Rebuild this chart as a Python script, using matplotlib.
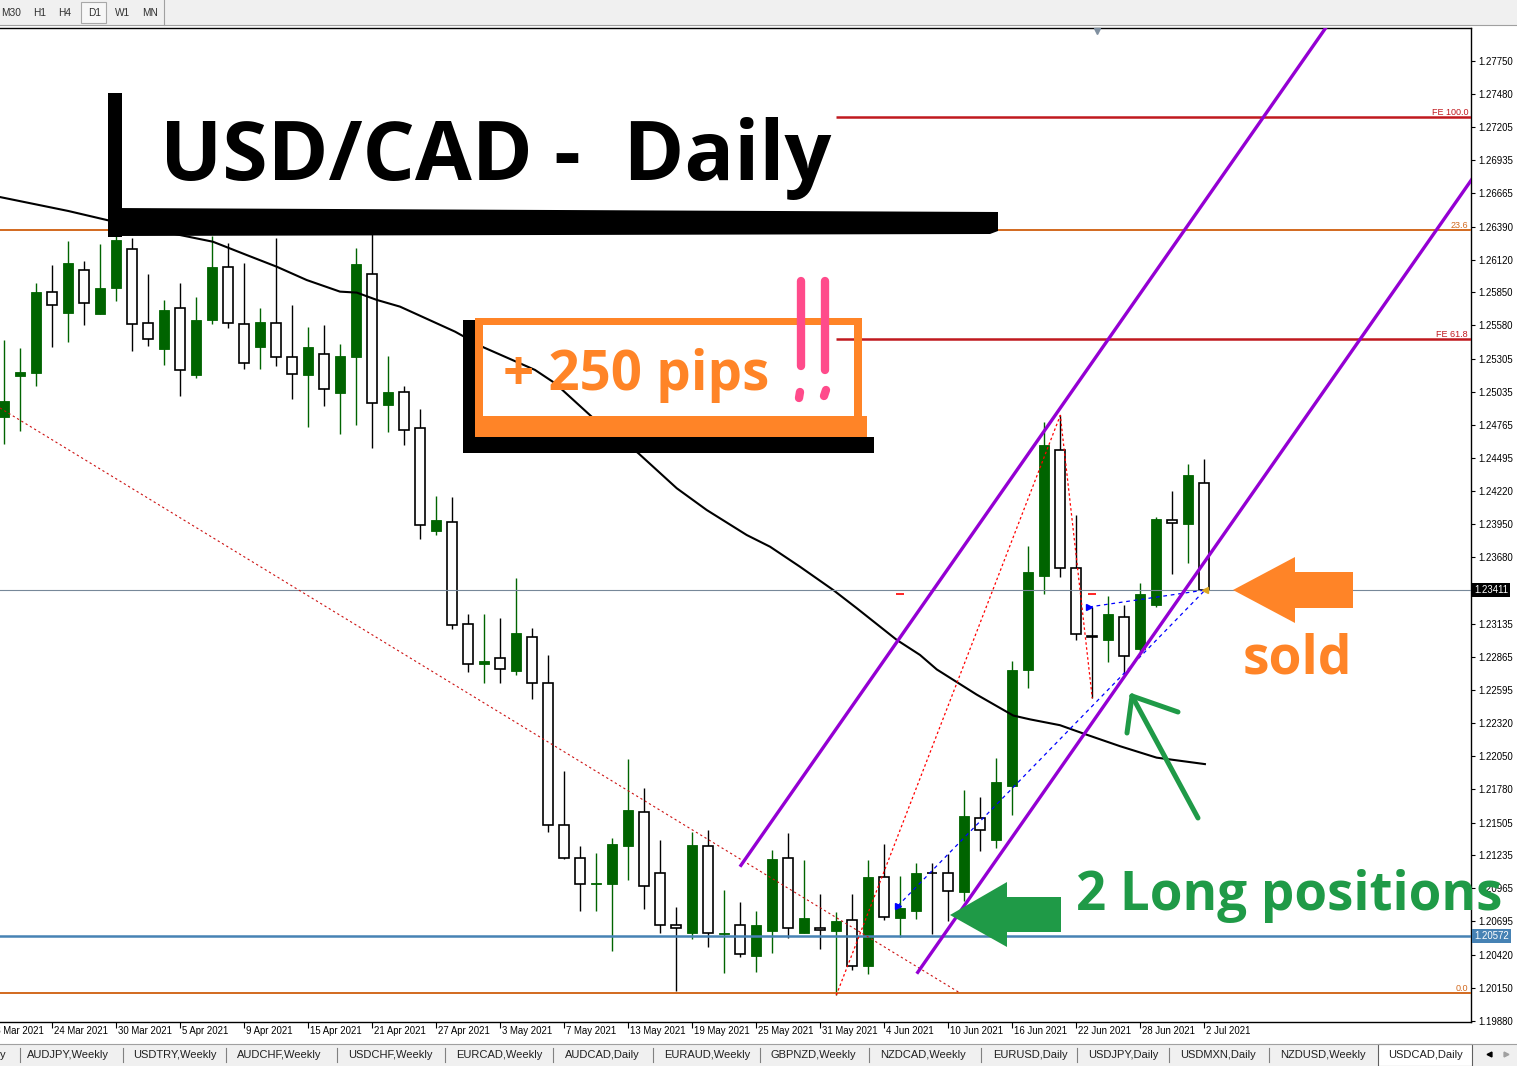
import matplotlib
matplotlib.use('Agg')
import matplotlib.pyplot as plt
from matplotlib.patches import Rectangle, Polygon
import matplotlib.transforms as mtransforms

# ---------------- data ----------------
opens = [1.24832, 1.25168, 1.25193, 1.25852, 1.25684, 1.26032, 1.25676, 1.25889, 1.26204, 1.25598,
         1.25389, 1.25720, 1.25176, 1.25627, 1.26057, 1.25589, 1.25406, 1.25598, 1.25319, 1.25176,
         1.25343, 1.25029, 1.25324, 1.25999, 1.24930, 1.25032, 1.24737, 1.23898, 1.23966, 1.23130,
         1.22807, 1.22854, 1.22750, 1.23024, 1.22647, 1.21483, 1.21212, 1.21000, 1.21004, 1.21316,
         1.21589, 1.21089, 1.20663, 1.20603, 1.21311, 1.20594, 1.20663, 1.20414, 1.20619, 1.21215,
         1.20603, 1.20641, 1.20619, 1.20704, 1.20325, 1.21059, 1.20723, 1.20776, 1.21090, 1.21090,
         1.20939, 1.21542, 1.21363, 1.21808, 1.22752, 1.23526, 1.24558, 1.23589, 1.23031, 1.23002,
         1.23188, 1.22925, 1.23291, 1.23988, 1.23956, 1.24285]
highs = [1.25461, 1.25395, 1.25928, 1.26075, 1.26272, 1.26108, 1.26248, 1.26321, 1.26294, 1.26002,
         1.25789, 1.25928, 1.25813, 1.26313, 1.26253, 1.26092, 1.25723, 1.26297, 1.25748, 1.25567,
         1.25584, 1.25428, 1.26215, 1.26338, 1.25329, 1.25084, 1.24893, 1.24182, 1.24174, 1.23215,
         1.23215, 1.23182, 1.23510, 1.23098, 1.22879, 1.21928, 1.21313, 1.21253, 1.21379, 1.22026,
         1.21789, 1.21362, 1.20816, 1.21428, 1.21444, 1.20952, 1.20854, 1.20780, 1.21280, 1.21420,
         1.21198, 1.20920, 1.20772, 1.20920, 1.21198, 1.21329, 1.21063, 1.21175, 1.21175, 1.21247,
         1.21770, 1.21717, 1.22030, 1.22827, 1.23771, 1.24787, 1.24843, 1.24028, 1.23275, 1.23366,
         1.23285, 1.23470, 1.24012, 1.24223, 1.24442, 1.24483]
lows = [1.24606, 1.24717, 1.25086, 1.25406, 1.25447, 1.25586, 1.25670, 1.25783, 1.25373, 1.25414,
        1.25258, 1.25004, 1.25152, 1.25594, 1.25561, 1.25225, 1.25225, 1.25250, 1.24980, 1.24750,
        1.24922, 1.24693, 1.24766, 1.24578, 1.24709, 1.24598, 1.23827, 1.23865, 1.23089, 1.22742,
        1.22652, 1.22652, 1.22717, 1.22516, 1.21430, 1.21204, 1.20783, 1.20783, 1.20455, 1.21037,
        1.20799, 1.20603, 1.20127, 1.20553, 1.20488, 1.20275, 1.20406, 1.20283, 1.20434, 1.20561,
        1.20600, 1.20466, 1.20090, 1.20294, 1.20262, 1.20703, 1.20563, 1.20711, 1.20594, 1.20698,
        1.20861, 1.21274, 1.21293, 1.21566, 1.22611, 1.23376, 1.23520, 1.23002, 1.22523, 1.22818,
        1.22720, 1.22900, 1.23275, 1.23542, 1.23636, 1.23411]
closes = [1.24961, 1.25196, 1.25854, 1.25745, 1.26092, 1.25761, 1.25887, 1.26280, 1.25589, 1.25466,
          1.25707, 1.25212, 1.25625, 1.26059, 1.25598, 1.25270, 1.25608, 1.25319, 1.25180, 1.25403,
          1.25057, 1.25329, 1.26084, 1.24942, 1.25034, 1.24720, 1.23942, 1.23983, 1.23122, 1.22802,
          1.22830, 1.22761, 1.23059, 1.22647, 1.21483, 1.21212, 1.20999, 1.21007, 1.21329, 1.21608,
          1.20983, 1.20663, 1.20639, 1.21321, 1.20598, 1.20600, 1.20425, 1.20666, 1.21207, 1.20639,
          1.20723, 1.20622, 1.20698, 1.20328, 1.21059, 1.20730, 1.20805, 1.21090, 1.21088, 1.20946,
          1.21557, 1.21441, 1.21839, 1.22755, 1.23557, 1.24599, 1.23589, 1.23050, 1.23029, 1.23213,
          1.22868, 1.23376, 1.23990, 1.23959, 1.24351, 1.23411]

ma_idx = [-0.3, 0, 4, 8, 10.98, 13.04, 15.15, 17.03, 18.9, 20.98, 22.03, 23.28, 24.73, 28.17,
          29.94, 33.17, 34.42, 36.71, 39.63, 42.03, 43.9, 46.4, 47.86, 49.73, 51.81, 53.28, 55.78,
          57.23, 58.28, 60.77, 63.06, 64.1, 65.98, 67.65, 69.73, 72.02, 75.04]
ma_val = [1.26633, 1.26625, 1.26518, 1.26395, 1.26321, 1.26266, 1.26157, 1.26061, 1.25952, 1.25857,
          1.25849, 1.25789, 1.25734, 1.25529, 1.25401, 1.25215, 1.25106, 1.24832, 1.24532, 1.24245,
          1.24067, 1.23862, 1.23766, 1.23602, 1.23411, 1.23262, 1.23002, 1.22879, 1.22760, 1.22554,
          1.22382, 1.22351, 1.22303, 1.22225, 1.22131, 1.22037, 1.21984]

date_idx = [-1, 3, 7, 11, 15, 19, 23, 27, 31, 35, 39, 43, 47, 51, 55, 59, 63, 67, 71, 75]
date_labels = ["18 Mar 2021", "24 Mar 2021", "30 Mar 2021", "5 Apr 2021", "9 Apr 2021",
               "15 Apr 2021", "21 Apr 2021", "27 Apr 2021", "3 May 2021", "7 May 2021",
               "13 May 2021", "19 May 2021", "25 May 2021", "31 May 2021", "4 Jun 2021",
               "10 Jun 2021", "16 Jun 2021", "22 Jun 2021", "28 Jun 2021", "2 Jul 2021"]
price_ticks = [1.27750, 1.27480, 1.27205, 1.26935, 1.26665, 1.26390, 1.26120, 1.25850, 1.25580,
               1.25305, 1.25035, 1.24765, 1.24495, 1.24220, 1.23950, 1.23680, 1.23135, 1.22865,
               1.22595, 1.22320, 1.22050, 1.21780, 1.21505, 1.21235, 1.20965, 1.20695, 1.20420,
               1.20150, 1.19880]

fib_levels = [1.26362, 1.20105]
fib_labels = ["23.6", "0.0"]
fib_diag_idx = [-0.27, 59.73]
fib_diag_price = [1.24903, 1.20108]
fe_levels = [1.27289, 1.25469]
fe_labels = ["FE 100.0", "FE 61.8"]
fe_start_idx = 52
fe_pts_idx = [52, 66, 68]
fe_pts_price = [1.20090, 1.24843, 1.22523]
chan_a_idx = [45.98, 83.0]
chan_a_price = [1.21143, 1.28096]
chan_b_idx = [57.03, 95.0]
chan_b_price = [1.20266, 1.27393]
trade1_idx = [55.84, 75.05]
trade1_price = [1.20821, 1.23411]
trade2_idx = [67.80, 75.05]
trade2_price = [1.23272, 1.23411]
stop_idx = [56, 68]
stop_price = [1.23379, 1.23379]
current_price = 1.23411
support_price = 1.20572

tabs = ["AUDJPY,Weekly", "USDTRY,Weekly", "AUDCHF,Weekly", "USDCHF,Weekly", "EURCAD,Weekly",
        "AUDCAD,Daily", "EURAUD,Weekly", "GBPNZD,Weekly", "NZDCAD,Weekly", "EURUSD,Daily",
        "USDJPY,Daily", "USDMXN,Daily", "NZDUSD,Weekly", "USDCAD,Daily"]
timeframes = ["M30", "H1", "H4", "D1", "W1", "MN"]

# ---------------- figure ----------------
W, H = 1517, 1066
fig = plt.figure(figsize=(W / 100, H / 100), dpi=100)
fig.patch.set_facecolor('white')
TICKFONT = 'Liberation Sans'

ax_left, ax_right, ax_top, ax_bot = 0, 1471, 28, 1022
ax = fig.add_axes([ax_left / W, 1 - ax_bot / H, (ax_right - ax_left) / W, (ax_bot - ax_top) / H])
ax.set_zorder(1)
ax.set_xlim(-0.27, 91.67)
ax.set_ylim(1.19870, 1.28018)
ax.set_facecolor('white')
ax.spines['left'].set_visible(False)
for s in ['top', 'right', 'bottom']:
    ax.spines[s].set_linewidth(1.0)
    ax.spines[s].set_color('black')

GREEN = '#006400'
n = min(len(opens), len(highs), len(lows), len(closes))
idx = list(range(n))
wick_colors = []
faces, edges, bottoms, heights, lws = [], [], [], [], []
for i in idx:
    o, c = opens[i], closes[i]
    bull = c > o
    wick_colors.append(GREEN if bull else 'black')
    faces.append(GREEN if bull else 'white')
    edges.append(GREEN if bull else 'black')
    lws.append(0.6 if bull else 1.2)
    bottoms.append(min(o, c))
    heights.append(abs(c - o))
ax.vlines(idx, lows[:n], highs[:n], colors=wick_colors, linewidth=1.0, zorder=2)
ax.bar(idx, heights, bottom=bottoms, width=0.62, color=faces, edgecolor=edges,
       linewidth=lws, zorder=3)

# moving average
ax.plot(ma_idx, ma_val, color='black', lw=1.5, zorder=4, solid_joinstyle='round')

# horizontal levels
ax.axhline(current_price, color='#778899', lw=0.8, zorder=4)
ax.axhline(support_price, color='#4682B4', lw=1.8, zorder=4)
ax.set_autoscale_on(False)
yblend = mtransforms.blended_transform_factory(ax.transAxes, ax.transData)
for lv, lb in zip(fib_levels, fib_labels):
    ax.axhline(lv, color='#D2691E', lw=1.4, zorder=4)
    ax.text(0.998, lv, lb, transform=yblend, ha='right', va='bottom', fontsize=6.5,
            color='#D2691E', family=TICKFONT, zorder=6)
for lv, lb in zip(fe_levels, fe_labels):
    ax.hlines(lv, fe_start_idx, 200, color='#C0191E', lw=1.8, zorder=4)
    ax.text(0.998, lv, lb, transform=yblend, ha='right', va='bottom', fontsize=6.5,
            color='#C0191E', family=TICKFONT, zorder=6)

ax.plot(fib_diag_idx, fib_diag_price, color='#CC1111', lw=0.8, ls=(0, (2, 2.5)), zorder=4)
ax.plot(fe_pts_idx, fe_pts_price, color='#FF0000', lw=0.9, ls=(0, (2, 2)), zorder=4)
ax.plot(trade1_idx, trade1_price, color='#0000FF', lw=0.9, ls=(0, (3, 3)), zorder=4)
ax.plot(trade2_idx, trade2_price, color='#0000FF', lw=0.9, ls=(0, (3, 3)), zorder=4)
ax.plot([trade1_idx[0], trade2_idx[0]], [trade1_price[0], trade2_price[0]], ls='none',
        marker='>', ms=4, color='#0000FF', zorder=5)
ax.plot([trade1_idx[1]], [trade1_price[1]], ls='none', marker='<', ms=4, color='#DAA520', zorder=5)
for si, sp in zip(stop_idx, stop_price):
    ax.hlines(sp, si - 0.25, si + 0.25, color='#FF0000', lw=1.2, zorder=5)

ax.plot(chan_a_idx, chan_a_price, color='#9400D3', lw=2.4, zorder=6, solid_capstyle='butt')
ax.plot(chan_b_idx, chan_b_price, color='#9400D3', lw=2.4, zorder=6, solid_capstyle='butt')

# price axis
ax.yaxis.set_ticks_position('right')
ax.set_yticks(price_ticks)
ax.set_yticklabels(['%.5f' % p for p in price_ticks], family=TICKFONT, fontsize=6.9)
ax.tick_params(axis='y', direction='out', length=3, width=0.8, pad=2, colors='black')
ax.set_xticks(date_idx[1:])
ax.set_xticklabels([])
ax.tick_params(axis='x', direction='out', length=4, width=0.8)

blend = mtransforms.blended_transform_factory(ax.transData, ax.transAxes)
off = mtransforms.ScaledTranslation(2 / 100, -4 / 100, fig.dpi_scale_trans)
for di, dl in zip(date_idx, date_labels):
    ax.text(di, 0, dl, transform=blend + off, ha='left', va='top', fontsize=6.9,
            family=TICKFONT, clip_on=False)

off2 = mtransforms.ScaledTranslation(3 / 100, 0, fig.dpi_scale_trans)
ax.text(1.0, current_price, '%.5f' % current_price, transform=yblend + off2, ha='left', va='center',
        fontsize=6.9, family=TICKFONT, color='white', zorder=7,
        bbox=dict(boxstyle='square,pad=0.22', fc='black', ec='none'), clip_on=False)
ax.text(1.0, support_price, '%.5f' % support_price, transform=yblend + off2, ha='left', va='center',
        fontsize=6.9, family=TICKFONT, color='white', zorder=7,
        bbox=dict(boxstyle='square,pad=0.22', fc='#4682B4', ec='none'), clip_on=False)

# ---------------- overlay (pixel coordinates) ----------------
ovl = fig.add_axes([0, 0, 1, 1])
ovl.set_zorder(10)
ovl.set_xlim(0, W)
ovl.set_ylim(H, 0)
ovl.axis('off')
ovl.patch.set_alpha(0)

# top toolbar
ovl.add_patch(Rectangle((0, 0), W, 25, fc='#F0F0F0', ec='none'))
ovl.plot([0, W], [25, 25], color='#A0A0A0', lw=0.8)
ovl.add_patch(Rectangle((81, 2), 25, 21, fc='#F7F7F7', ec='#A8A8A8', lw=0.8))
ovl.plot([164, 164], [0, 25], color='#A0A0A0', lw=0.8)
for tf, tx in zip(timeframes, [1, 33, 58, 88, 115, 142]):
    ovl.text(tx, 13.5, tf, ha='left', va='center', fontsize=7.3, family=TICKFONT, color='#303030')
ovl.plot([1097], [31], marker='v', ms=5, color='#8090A0', ls='none')

# bottom tab bar
ovl.add_patch(Rectangle((0, 1044), W, 22, fc='#F0F0F0', ec='none'))
ovl.plot([0, W], [1044, 1044], color='#A0A0A0', lw=0.8)
ovl.add_patch(Rectangle((1378, 1044), 94, 22, fc='white', ec='#606060', lw=0.8))
ovl.text(0, 1055, 'y', ha='left', va='center', fontsize=8, family=TICKFONT, color='#202020')
tab_x = [27, 133, 237, 348, 456, 565, 664, 771, 880, 993, 1088, 1180, 1280, 1388]
sep_x = [20, 123, 226, 337, 445, 553, 653, 760, 869, 981, 1077, 1169, 1269]
for tb, tx in zip(tabs, tab_x):
    ovl.text(tx, 1055, tb, ha='left', va='center', fontsize=8, family=TICKFONT, color='#202020')
for sx in sep_x:
    ovl.plot([sx, sx], [1048, 1062], color='#808080', lw=0.8)
ovl.plot([1489], [1054], marker='<', ms=3.5, color='black', ls='none')
ovl.plot([1506], [1054], marker='>', ms=3.5, color='#A0A0A0', ls='none')

ORANGE = '#FF8427'
GREEN2 = '#1F9A47'
PINK = '#FF4B8B'

# black bracket under title
ovl.add_patch(Rectangle((108, 93), 14, 144, fc='black', ec='none', zorder=3))
ovl.add_patch(Polygon([(113, 208), (998, 212), (998, 231), (990, 234), (113, 236)],
                      closed=True, fc='black', ec='none', zorder=3))

# orange box with black shadow
ovl.add_patch(Rectangle((463, 320), 12, 133, fc='black', ec='none', zorder=3))
ovl.add_patch(Rectangle((463, 437), 411, 16, fc='black', ec='none', zorder=3))
ovl.add_patch(Rectangle((475, 318), 387, 7, fc=ORANGE, ec='none', zorder=4))
ovl.add_patch(Rectangle((475, 318), 8, 119, fc=ORANGE, ec='none', zorder=4))
ovl.add_patch(Rectangle((854, 318), 8, 119, fc=ORANGE, ec='none', zorder=4))
ovl.add_patch(Rectangle((475, 416), 392, 21, fc=ORANGE, ec='none', zorder=4))

# pink exclamation marks
for (x0, y0, x1, y1) in [(801, 281, 801, 366), (800, 392, 799, 398), (825, 281, 825, 370), (826, 390, 824, 396)]:
    ovl.plot([x0, x1], [y0, y1], color=PINK, lw=6, solid_capstyle='round', zorder=5)

# arrows
ovl.add_patch(Polygon([(950, 915), (1007, 882), (1007, 897), (1061, 897), (1061, 932), (1007, 932),
                       (1007, 947)], closed=True, fc=GREEN2, ec='none', zorder=5))
ovl.add_patch(Polygon([(1233, 590), (1295, 557), (1295, 572), (1353, 572), (1353, 608), (1295, 608),
                       (1295, 623)], closed=True, fc=ORANGE, ec='none', zorder=5))
for seg in [[(1198, 818), (1132, 696)], [(1132, 696), (1178, 712)], [(1132, 696), (1127, 733)]]:
    ovl.plot([seg[0][0], seg[1][0]], [seg[0][1], seg[1][1]], color=GREEN2, lw=3.6,
             solid_capstyle='round', zorder=5)

renderer = fig.canvas.get_renderer()


def fit_text(x, y, s, width, color):
    t = ovl.text(x, y, s, fontsize=50, ha='left', va='baseline', color=color,
                 family='Open Sans', fontweight='bold', zorder=6)
    bb = t.get_window_extent(renderer=renderer)
    t.set_fontsize(50 * width / bb.width)
    return t


fit_text(160, 180, 'USD/CAD -  Daily', 672, 'black')
fit_text(503, 390, '+ 250 pips', 266, ORANGE)
fit_text(1243, 674, 'sold', 110, ORANGE)
fit_text(1076, 910, '2 Long positions', 426, GREEN2)

fig.savefig('out.png', dpi=100, facecolor='white')
